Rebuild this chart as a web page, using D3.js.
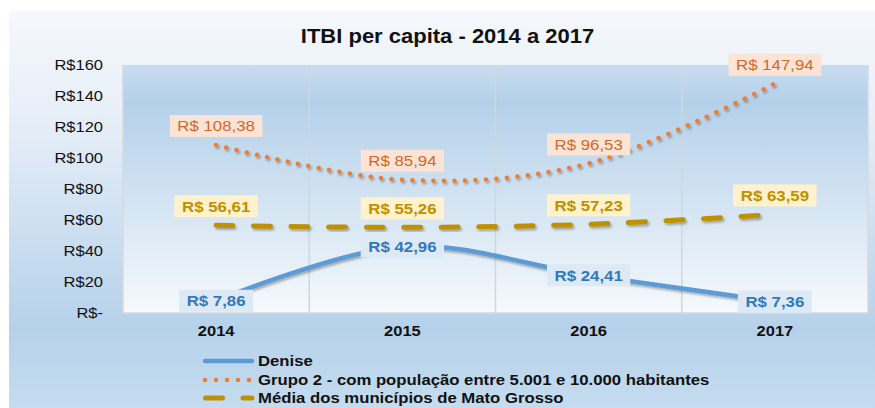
<!DOCTYPE html>
<html>
<head>
<meta charset="utf-8">
<script src="https://cdn.jsdelivr.net/npm/d3@7"></script>
<style>
  body { margin: 0; background: #fff; }
  svg { display: block; font-family: "Liberation Sans", Arial, sans-serif; }
</style>
</head>
<body>
<div id="chart"></div>
<script>
'use strict';

const W = 875, H = 408;
const MARGIN = { top: 65, right: 7, bottom: 95, left: 123 };
const SX = 1.1; // the source picture is a little wider than tall, so text is stretched

const TITLE = 'ITBI per capita - 2014 a 2017';
const YEARS = ['2014', '2015', '2016', '2017'];
const DENISE = [7.86, 42.96, 24.41, 7.36];
const GRUPO2 = [108.38, 85.94, 96.53, 147.94];
const MEDIA_MT = [56.61, 55.26, 57.23, 63.59];
const Y_TICKS = [0, 20, 40, 60, 80, 100, 120, 140, 160];
const SERIES_NAMES = [
  'Denise',
  'Grupo 2 - com população entre 5.001 e 10.000 habitantes',
  'Média dos municípios de Mato Grosso',
];

const SERIES = [
  { name: SERIES_NAMES[0], values: DENISE,   color: '#5b9bd5', width: 4.5, dash: null,        cap: 'round',
    pos: 'center', bg: '#dde9f5', fg: '#3178bd', bold: true },
  { name: SERIES_NAMES[1], values: GRUPO2,   color: '#ed7d31', width: 4.5, dash: '0.01 10.5', cap: 'round',
    pos: 'above',  bg: '#fbe3d5', fg: '#d0692a', bold: false },
  { name: SERIES_NAMES[2], values: MEDIA_MT, color: '#bf9000', width: 5,   dash: '17 20.5',   cap: 'round',
    pos: 'above',  bg: '#fff2cc', fg: '#bf9000', bold: true },
];

const fmtBRL = v => 'R$ ' + d3.format('.2f')(v).replace('.', ',');

// scale a text element horizontally around its anchor x
function stretch(sel) {
  sel.each(function () {
    const t = d3.select(this);
    const x = +t.attr('x') || 0;
    t.attr('transform', `translate(${x * (1 - SX)},0) scale(${SX},1)`);
  });
}

function drawChart() {
  const w = W - MARGIN.left - MARGIN.right;
  const h = H - MARGIN.top - MARGIN.bottom;

  const svg = d3.select('#chart').append('svg')
    .attr('width', W).attr('height', H);

  const defs = svg.append('defs');
  const outerGrad = defs.append('linearGradient')
    .attr('id', 'outerGrad').attr('x1', 0).attr('y1', 0).attr('x2', 0).attr('y2', 1);
  [[0, '#f5f8fc'], [0.3, '#e4edf7'], [0.8, '#b5d1ea'], [1, '#c5dcef']]
    .forEach(([o, c]) => outerGrad.append('stop').attr('offset', o).attr('stop-color', c));

  const plotGrad = defs.append('linearGradient')
    .attr('id', 'plotGrad').attr('x1', 0).attr('y1', 0).attr('x2', 0).attr('y2', 1);
  [[0, '#c8dcef'], [0.15, '#b4d0e9'], [1, '#f5f9fc']]
    .forEach(([o, c]) => plotGrad.append('stop').attr('offset', o).attr('stop-color', c));

  defs.append('filter').attr('id', 'shadow')
    .attr('x', '-10%').attr('y', '-30%').attr('width', '120%').attr('height', '160%')
    .append('feDropShadow')
    .attr('dx', 1.5).attr('dy', 2).attr('stdDeviation', 1.3)
    .attr('flood-color', '#000').attr('flood-opacity', 0.3);

  // chart area background
  svg.append('rect')
    .attr('x', 9).attr('y', 11).attr('width', W - 9).attr('height', H - 11)
    .attr('fill', 'url(#outerGrad)');

  // title
  svg.append('text')
    .attr('x', 447.5).attr('y', 43)
    .attr('text-anchor', 'middle')
    .attr('font-size', '20px').attr('font-weight', 'bold').attr('fill', '#111')
    .text(TITLE)
    .call(stretch);

  const x = d3.scaleBand().domain(YEARS).range([0, w]);
  const y = d3.scaleLinear().domain([0, 160]).range([h, 0]);

  const g = svg.append('g')
    .attr('transform', `translate(${MARGIN.left},${MARGIN.top})`);

  // plot area
  g.append('rect')
    .attr('width', w).attr('height', h)
    .attr('fill', 'url(#plotGrad)');

  // vertical gridlines between categories + border
  g.append('g')
    .selectAll('line')
    .data(YEARS.slice(1))
    .join('line')
    .attr('x1', d => x(d)).attr('x2', d => x(d))
    .attr('y1', 0).attr('y2', h)
    .attr('stroke', '#d2d6da').attr('stroke-width', 1.5);

  g.append('path')
    .attr('d', `M0,0V${h}H${w}V0`)
    .attr('fill', 'none')
    .attr('stroke', '#d6d9dc').attr('stroke-width', 1.5);

  // axes
  g.append('g')
    .call(d3.axisLeft(y).tickValues(Y_TICKS).tickSize(0).tickPadding(20)
      .tickFormat(v => v === 0 ? 'R$-' : 'R$' + v))
    .call(a => a.select('.domain').remove())
    .selectAll('text')
    .attr('font-size', '15px').attr('fill', '#111').attr('font-family', null)
    .call(stretch);

  g.append('g')
    .attr('transform', `translate(0,${h})`)
    .call(d3.axisBottom(x).tickSize(0).tickPadding(12))
    .call(a => a.select('.domain').remove())
    .selectAll('text')
    .attr('font-size', '15px').attr('font-weight', 'bold').attr('fill', '#111').attr('font-family', null)
    .call(stretch);

  // lines
  const line = d3.line()
    .x((d, i) => x(YEARS[i]) + x.bandwidth() / 2)
    .y(d => y(d))
    .curve(d3.curveCatmullRom.alpha(0));

  SERIES.forEach(s => {
    g.append('path')
      .datum(s.values)
      .attr('d', line)
      .attr('fill', 'none')
      .attr('stroke', s.color)
      .attr('stroke-width', s.width)
      .attr('stroke-linecap', s.cap)
      .attr('stroke-dasharray', s.dash)
      .attr('filter', 'url(#shadow)');
  });

  // data labels
  SERIES.forEach(s => {
    s.values.forEach((v, i) => {
      const cx = x(YEARS[i]) + x.bandwidth() / 2;
      const cy = s.pos === 'above' ? y(v) - 19 : y(v);
      const lg = g.append('g').attr('transform', `translate(${cx},${cy})`);
      const box = lg.append('rect');
      const t = lg.append('text')
        .attr('x', 0).attr('dy', '0.35em')
        .attr('text-anchor', 'middle')
        .attr('font-size', '15.3px')
        .attr('font-weight', s.bold ? 'bold' : 'normal')
        .attr('fill', s.fg)
        .text(fmtBRL(v))
        .call(stretch);
      const tw = t.node().getComputedTextLength() * SX + 15;
      box.attr('x', -tw / 2).attr('y', -11).attr('width', tw).attr('height', 22)
        .attr('fill', s.bg);
    });
  });

  // legend
  const legendY = [361, 380, 398];
  const legend = svg.append('g');
  SERIES.forEach((s, i) => {
    const row = legend.append('g').attr('transform', `translate(0,${legendY[i]})`);
    row.append('line')
      .attr('x1', s.dash === '17 20.5' ? 205.5 : 205).attr('x2', 252)
      .attr('stroke', s.color)
      .attr('stroke-width', s.width)
      .attr('stroke-linecap', s.cap)
      .attr('stroke-dasharray', s.dash === '0.01 10.5' ? '0.01 11' : s.dash);
    row.append('text')
      .attr('x', 258).attr('dy', '0.35em')
      .attr('font-size', '15.2px').attr('font-weight', 'bold').attr('fill', '#111')
      .text(s.name)
      .call(stretch);
  });
}

drawChart();
</script>
</body>
</html>
